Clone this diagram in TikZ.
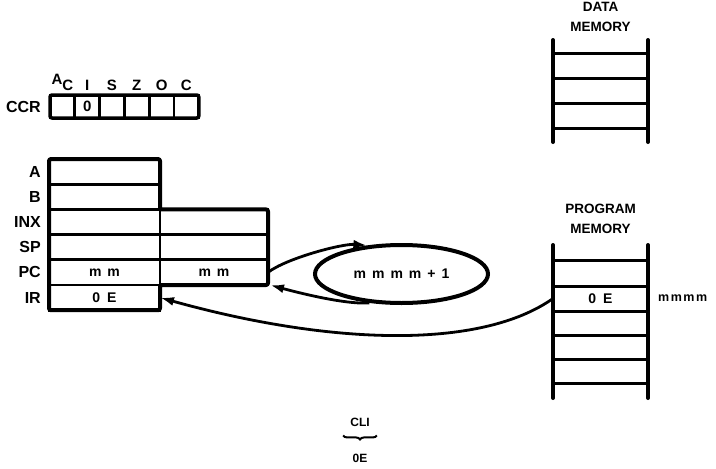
\documentclass[tikz,border=0pt]{standalone}
\usepackage{fontspec}
\setmainfont{Liberation Sans}
\usetikzlibrary{arrows.meta, positioning, shapes.geometric, decorations.pathreplacing}

\begin{document}
\begin{tikzpicture}[
  x=1pt, y=-1pt,
  font=\bfseries\fontsize{16}{18}\selectfont,
  >={Latex[length=14pt,width=9pt]},
  cell/.style={rectangle, draw, line width=2.8pt, inner sep=0pt, outer sep=0pt,
    minimum width=111pt, minimum height=25.2pt,
    font=\bfseries\fontsize{14}{16}\selectfont},
  widecell/.style={cell, minimum width=108pt},
  flagcell/.style={cell, minimum width=24.8pt, minimum height=23pt,
    font=\bfseries\fontsize{15}{17}\selectfont},
  reglabel/.style={inner sep=0pt},
  flaglabel/.style={inner sep=0pt, font=\bfseries\fontsize{15}{17}\selectfont},
  title/.style={align=center, font=\bfseries\fontsize{13.5}{20}\selectfont},
  outline/.style={line width=4pt, rounded corners=2pt, line join=round},
  rail/.style={line width=4pt, line cap=round},
  rung/.style={line width=3pt},
  counter/.style={ellipse, draw, line width=4pt, minimum width=173pt,
    minimum height=58pt, font=\bfseries\fontsize{14}{16}\selectfont},
  flow/.style={->, line width=2.8pt},
  small/.style={font=\bfseries\fontsize{12}{14}\selectfont, inner sep=0pt}
]
\useasboundingbox (0,0) rectangle (716,469);

% Condition code register
\foreach \flag/\val [count=\i from 0] in
    {{A\raisebox{-6pt}{C}}/, I/0, S/, Z/, O/, C/} {
  \node[flagcell] (ccr\i) at (62.4+24.8*\i, 106.5) {\val};
  \node[flaglabel, above=4pt of ccr\i] (flag\i) {\flag};
}
\draw[outline, line width=3.5pt] (ccr0.north west) rectangle (ccr5.south east);
\node[reglabel, left=9pt of ccr0] (ccr) {CCR};

% Registers
\foreach \lbl/\val [count=\i from 0] in
    {A/, B/, INX/, SP/, PC/m\hspace{6pt}m, IR/0\hspace{7pt}E} {
  \node[cell] (reg\lbl) at (104.5, 171.6+25.2*\i) {\val};
  \node[reglabel, left=8pt of reg\lbl] (lbl\lbl) {\lbl};
}
\foreach \lbl/\val [count=\i from 2] in {INX/, SP/, PC/m\hspace{6pt}m}
  \node[widecell] (ext\lbl) at (214, 171.6+25.2*\i) {\val};
\draw[outline] (regA.north west) -- (regA.north east) -- (extINX.north west)
  -- (extINX.north east) -- (extPC.south east) -- (extPC.south west)
  -- (regIR.south east) -- (regIR.south west) -- cycle;

% Incrementer
\node[counter] (incr) at (401.5, 274)
  {m\hspace{6pt}m\hspace{6pt}m\hspace{6pt}m\hspace{6pt}+\hspace{6pt}1};

% Data memory
\node[title] (dmtitle) at (600.5, 17) {DATA\\MEMORY};
\draw[rail] (553,40) -- (553,142);
\draw[rail] (648,40) -- (648,142);
\foreach \y in {53,78,103,128}
  \draw[rung] (553,\y) -- (648,\y);

% Program memory
\node[title] (pmtitle) at (600.5, 219) {PROGRAM\\MEMORY};
\draw[rail] (553,245) -- (553,398);
\draw[rail] (648,245) -- (648,398);
\foreach \y in {260,286,311,335,359,383}
  \draw[rung] (553,\y) -- (648,\y);
\node[cell, draw=none, minimum width=95pt, minimum height=25pt]
  (pmOE) at (600.5, 298.5) {0\hspace{7pt}E};
\node[font=\bfseries\fontsize{12.5}{14}\selectfont, inner sep=0pt,
  right=10pt of pmOE] (addr) {m\hspace{1.5pt}m\hspace{1.5pt}m\hspace{1.5pt}m};

% Arrows
\draw[flow] (extPC.east) .. controls +(18,-14) and +(-25,-2) .. (incr.140);
\draw[flow] (incr.222) .. controls +(-25,2) and +(22,6) ..
  ([xshift=2pt]extPC.south east);
\draw[flow] (pmOE.west) .. controls (480,350) and (330,345) .. (regIR.east);

% Opcode
\node[small] (mnem) at (360, 422) {CLI};
\draw[line width=2pt, decorate, decoration={brace, amplitude=4pt, mirror}]
  ([xshift=-7pt, yshift=-9pt]mnem.south west) --
  ([xshift=7pt, yshift=-9pt]mnem.south east);
\node[small] (opcode) at (360, 458) {0E};

\end{tikzpicture}
\end{document}
